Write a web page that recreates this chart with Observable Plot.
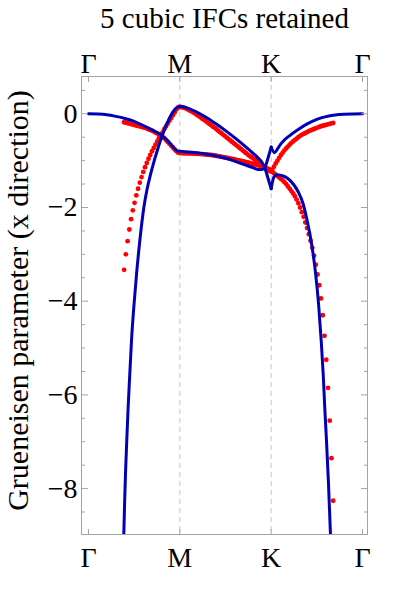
<!DOCTYPE html>
<html>
<head>
<meta charset="utf-8">
<script src="https://cdn.jsdelivr.net/npm/d3@7"></script>
<script src="https://cdn.jsdelivr.net/npm/@observablehq/plot@0.6"></script>
<style>
  body { margin: 0; background: #fff; }
</style>
</head>
<body>
<div id="chart"></div>
<script>
// High-symmetry path and axis ticks
const kTicks = [0, 1, 2, 3];
const kLabels = ["Γ", "M", "K", "Γ"];
const yMajor = [-8, -6, -4, -2, 0];
const yMinor = [-8.5, -7.5, -7, -6.5, -5.5, -5, -4.5, -3.5, -3, -2.5, -1.5, -1, -0.5, 0.5];
const titleText = "5 cubic IFCs retained";
const yLabelText = "Grueneisen parameter (x direction)";

// Sampled branches (red points), on a uniform grid along the path
const redStart = 0.39;
const redStep = 0.01908;
const redBranch1 = [
  -0.18, -0.19, -0.20, -0.21, -0.22, -0.23, -0.24, -0.25, -0.26, -0.27,
  -0.28, -0.29, -0.30, -0.315, -0.33, -0.345, -0.36, -0.38, -0.40, -0.42,
  -0.44, -0.46, -0.49, -0.52, -0.56, -0.60, -0.64, -0.68, -0.72, -0.76,
  -0.80, -0.83, -0.84,
  -0.84, -0.842, -0.843, -0.845, -0.845, -0.847, -0.85, -0.85, -0.853, -0.855,
  -0.857, -0.86, -0.863, -0.866, -0.87, -0.873, -0.877, -0.88, -0.885, -0.89,
  -0.90, -0.905, -0.91, -0.918, -0.925, -0.933, -0.94, -0.948, -0.955, -0.963,
  -0.97, -0.98, -0.99, -0.995, -1.005, -1.013, -1.02, -1.03, -1.04, -1.05,
  -1.06, -1.07, -1.08, -1.09, -1.10, -1.11, -1.12, -1.135, -1.15, -1.165,
  -1.18, -1.20,
  -1.24, -1.27, -1.30, -1.33, -1.36, -1.39, -1.42, -1.46, -1.50, -1.55,
  -1.60, -1.65, -1.70, -1.76, -1.83, -1.91, -2.00, -2.10, -2.20, -2.32,
  -2.44, -2.57, -2.71, -2.86, -3.03, -3.22, -3.43, -3.66, -3.94, -4.30,
  -4.74, -5.25, -5.85, -6.55, -7.35, -8.26
];
const redBranch2 = [
  -3.33, -3.00, -2.72, -2.47, -2.25, -2.06, -1.90, -1.74, -1.60, -1.47,
  -1.35, -1.24, -1.14, -1.05, -0.96, -0.88, -0.80, -0.73, -0.66, -0.59,
  -0.52, -0.46, -0.40, -0.33, -0.27, -0.21, -0.15, -0.09, -0.03, 0.03,
  0.09, 0.13, 0.15,
  0.14, 0.135, 0.12, 0.10, 0.085, 0.065, 0.045, 0.02, 0.00, -0.03,
  -0.055, -0.08, -0.11, -0.135, -0.16, -0.19, -0.22, -0.245, -0.275, -0.30,
  -0.33, -0.36, -0.39, -0.42, -0.45, -0.48, -0.51, -0.54, -0.57, -0.60,
  -0.63, -0.66, -0.69, -0.72, -0.75, -0.78, -0.81, -0.84, -0.87, -0.90,
  -0.925, -0.95, -0.98, -1.01, -1.04, -1.07, -1.10, -1.13, -1.16, -1.18,
  -1.21, -1.23,
  -1.20, -1.13, -1.06, -1.00, -0.94, -0.88, -0.83, -0.78, -0.74, -0.70,
  -0.66, -0.62, -0.59, -0.56, -0.53, -0.50, -0.47, -0.45, -0.43, -0.41,
  -0.39, -0.37, -0.355, -0.34, -0.325, -0.31, -0.295, -0.28, -0.265, -0.255,
  -0.245, -0.235, -0.225, -0.215, -0.205, -0.195
];

// Continuous branches (blue curves): [path position, Grueneisen parameter]
const blueA_GM = [[0, 0], [0.1, -0.005], [0.2, -0.02], [0.3, -0.055], [0.4, -0.10], [0.5, -0.16], [0.6, -0.25], [0.7, -0.35], [0.8, -0.46], [0.85, -0.54], [0.9, -0.645], [0.95, -0.76], [0.98, -0.80], [1.0, -0.80]];
const blueA_MK = [[1.0, -0.80], [1.1, -0.815], [1.2, -0.835], [1.3, -0.865], [1.4, -0.90], [1.5, -0.95], [1.6, -1.01], [1.7, -1.08], [1.8, -1.15], [1.86, -1.19], [1.9, -1.19], [1.93, -1.15], [1.965, -0.95], [2.0, -0.71]];
const blueA_KG = [[2.0, -0.71], [2.035, -0.83], [2.07, -0.75], [2.1, -0.66], [2.14, -0.57], [2.2, -0.47], [2.3, -0.33], [2.4, -0.21], [2.5, -0.12], [2.6, -0.06], [2.7, -0.025], [2.8, -0.008], [2.9, -0.002], [3.0, 0]];
const blueB_GM = [[0.385, -9.1], [0.394, -8.41], [0.405, -7.69], [0.419, -6.98], [0.434, -6.27], [0.452, -5.56], [0.471, -4.84], [0.496, -4.13], [0.526, -3.42], [0.562, -2.71], [0.606, -2.0], [0.64, -1.62], [0.68, -1.29], [0.72, -1.0], [0.76, -0.74], [0.8, -0.50], [0.85, -0.25], [0.9, -0.04], [0.94, 0.08], [0.97, 0.14], [1.0, 0.155]];
const blueB_MK = [[1.0, 0.155], [1.05, 0.14], [1.1, 0.11], [1.2, 0.02], [1.3, -0.09], [1.4, -0.22], [1.5, -0.36], [1.6, -0.51], [1.7, -0.67], [1.8, -0.84], [1.85, -0.93], [1.9, -1.04], [1.93, -1.15], [1.965, -1.37], [2.0, -1.6]];
const blueB_KG = [[2.0, -1.6], [2.03, -1.35], [2.06, -1.30], [2.1, -1.31], [2.15, -1.34], [2.2, -1.41], [2.25, -1.52], [2.3, -1.68], [2.35, -1.92], [2.394, -2.28], [2.43, -2.63], [2.46, -3.0], [2.485, -3.38], [2.52, -4.08], [2.548, -4.84], [2.57, -5.56], [2.587, -6.27], [2.606, -6.98], [2.628, -7.9], [2.652, -9.1]];

// Build tables for the marks
const redPoints = [];
[redBranch1, redBranch2].forEach((branch, b) => {
  branch.forEach((g, i) => redPoints.push({branch: b, k: redStart + i * redStep, g}));
});
const blueSegments = {blueA_GM, blueA_MK, blueA_KG, blueB_GM, blueB_MK, blueB_KG};
const bluePoints = [];
for (const [seg, pts] of Object.entries(blueSegments)) {
  for (const [k, g] of pts) bluePoints.push({seg, k, g});
}

const frameGray = "#a3a3a3";
const serif = "'Liberation Serif', 'Times New Roman', 'DejaVu Serif', serif";
const kFormat = (d) => kLabels[kTicks.indexOf(d)];
const yFormat = (d) => d === 0 ? "0" : (d < 0 ? "\u2212" : "") + Math.abs(d);
const blank = () => "";

const chart = Plot.plot({
  width: 412,
  height: 612,
  marginLeft: 81,
  marginRight: 45,
  marginTop: 76,
  marginBottom: 78,
  style: {fontFamily: serif, fontSize: "28px", background: "#fff", color: "#000"},
  x: {domain: [-0.0766, 3.055]},
  y: {domain: [-8.98, 0.796]},
  marks: [
    // dashed guides at the interior high-symmetry points
    Plot.ruleX(kTicks.slice(1, 3), {stroke: "#c6c6c6", strokeWidth: 1, strokeDasharray: "5,4"}),
    Plot.dot(redPoints, {x: "k", y: "g", r: 2.4, fill: "#ff0000", stroke: null, clip: true}),
    Plot.line(bluePoints, {x: "k", y: "g", z: "seg", stroke: "#0000b4", strokeWidth: 3, curve: "monotone-x", clip: true}),
    Plot.frame({stroke: frameGray, strokeWidth: 1}),
    // inward frame ticks
    Plot.axisY(yMinor, {anchor: "left", tickSize: -4, tickFormat: blank, stroke: frameGray, label: null}),
    Plot.axisY(yMinor, {anchor: "right", tickSize: -4, tickFormat: blank, stroke: frameGray, label: null}),
    Plot.axisY(yMajor, {anchor: "left", tickSize: -7, tickFormat: blank, stroke: frameGray, label: null}),
    Plot.axisY(yMajor, {anchor: "right", tickSize: -7, tickFormat: blank, stroke: frameGray, label: null}),
    Plot.axisX(kTicks, {anchor: "top", tickSize: -5, tickFormat: blank, stroke: frameGray, label: null}),
    Plot.axisX(kTicks, {anchor: "bottom", tickSize: -5, tickFormat: blank, stroke: frameGray, label: null}),
    // tick labels
    Plot.axisY(yMajor, {anchor: "left", tickSize: 0, tickPadding: 4, tickFormat: yFormat, label: null, fontSize: 28}),
    Plot.axisX(kTicks, {anchor: "top", tickSize: 0, tickPadding: 4, tickFormat: kFormat, label: null, fontSize: 28}),
    Plot.axisX(kTicks, {anchor: "bottom", tickSize: 0, tickPadding: 13, tickFormat: kFormat, label: null, fontSize: 28}),
    // title and axis label
    Plot.text([titleText], {text: (d) => d, frameAnchor: "top", dy: -58, textAnchor: "middle", lineAnchor: "middle", fontSize: 29}),
    Plot.text([yLabelText], {text: (d) => d, frameAnchor: "left", rotate: -90, dx: -63, dy: -5, textAnchor: "middle", lineAnchor: "middle", fontSize: 30})
  ]
});
document.getElementById("chart").appendChild(chart);
</script>
</body>
</html>
